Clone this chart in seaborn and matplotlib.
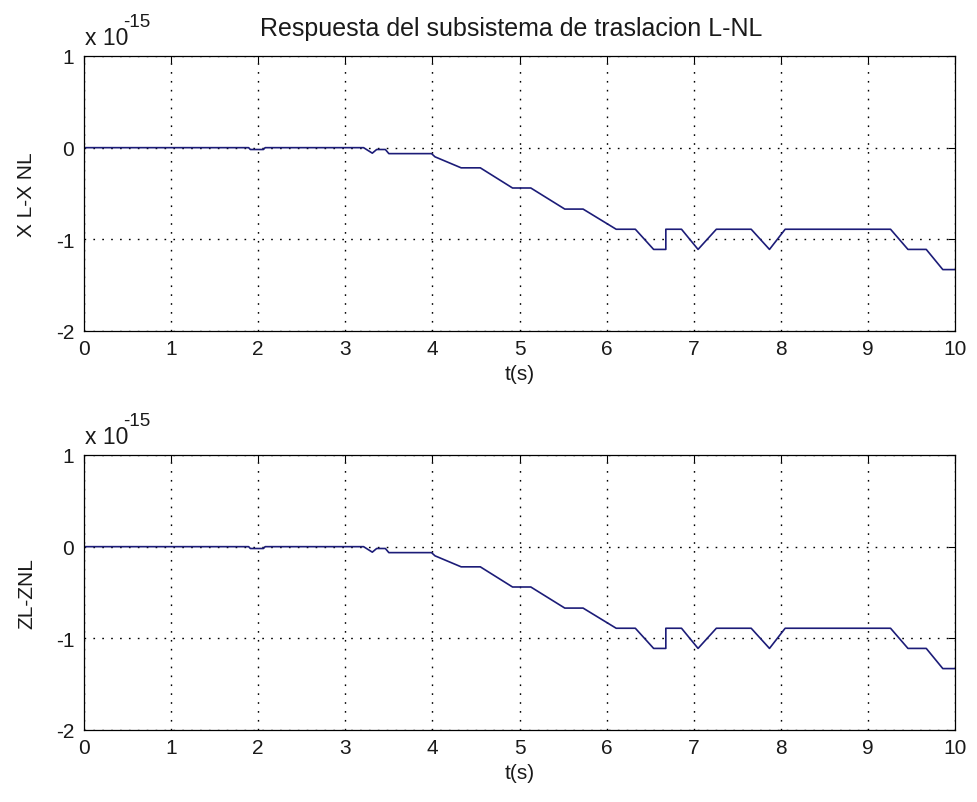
import matplotlib
matplotlib.use("Agg")
import matplotlib.pyplot as plt
import seaborn as sns
import pandas as pd

# data (values in units of 1e-15)
t = [0, 1.89, 1.91, 2.06, 2.08, 3.21, 3.31, 3.36, 3.46, 3.50, 3.99, 4.03, 4.33, 4.55,
     4.92, 5.13, 5.52, 5.73, 6.11, 6.33, 6.54, 6.68, 6.68, 6.86, 7.05, 7.26, 7.66, 7.87,
     8.05, 9.26, 9.46, 9.67, 9.86, 10]
x_diff = [0, 0, -0.02, -0.02, 0, 0, -0.06, -0.02, -0.02, -0.065, -0.065, -0.1, -0.22, -0.22,
          -0.44, -0.44, -0.67, -0.67, -0.89, -0.89, -1.11, -1.11, -0.89, -0.89, -1.11, -0.89, -0.89, -1.11,
          -0.89, -0.89, -1.11, -1.11, -1.33, -1.33]
z_diff = list(x_diff)
x_ticks = list(range(0, 11))
y_ticks = [-2, -1, 0, 1]
title = "Respuesta del subsistema de traslacion L-NL"
ylabels = ["X L-X NL", "ZL-ZNL"]

sns.set_style("white")
plt.rcParams['font.family'] = ['Liberation Sans', 'DejaVu Sans']
plt.rcParams['axes.unicode_minus'] = False

W, H = 977, 803
fig = plt.figure(figsize=(W / 100, H / 100), dpi=100)
ax_w, ax_h = 871, 275
ax1 = fig.add_axes([84 / W, 1 - 332 / H, ax_w / W, ax_h / H])
ax2 = fig.add_axes([84 / W, 1 - 731 / H, ax_w / W, ax_h / H])

line_color = "#1c1c78"
text_color = "#1a1a1a"
for ax, vals, yl, top_px in [(ax1, x_diff, ylabels[0], 57), (ax2, z_diff, ylabels[1], 456)]:
    df = pd.DataFrame({"t": t, "v": vals})
    sns.lineplot(data=df, x="t", y="v", ax=ax, color=line_color, linewidth=1.2,
                 sort=False, estimator=None)
    ax.set_xlim(0, 10)
    ax.set_ylim(-2, 1)
    ax.set_xticks(x_ticks)
    ax.set_yticks(y_ticks)
    ax.grid(True, linestyle=(0, (1.2, 5.2)), color="black", linewidth=1.0)
    ax.tick_params(direction="in", length=5, top=True, right=True, labelsize=15,
                   color="black", labelcolor=text_color)
    ax.tick_params(axis="x", pad=6)
    ax.tick_params(axis="y", pad=7)
    for s in ax.spines.values():
        s.set_color("black")
        s.set_linewidth(0.9)
    ax.set_xlabel("t(s)", fontsize=15, color=text_color)
    ax.xaxis.set_label_coords(0.5, -33 / ax_h)
    ax.set_ylabel(yl, fontsize=15, color=text_color)
    ax.yaxis.set_label_coords(-(84 - 36) / ax_w, 0.5)
    # exponent label
    fig.text(85 / W, 1 - (top_px - 12) / H, "x 10", fontsize=16.5, ha="left",
             va="baseline", color=text_color)
    fig.text(123 / W, 1 - (top_px - 30) / H, "-15", fontsize=13.5, ha="left",
             va="baseline", color=text_color)

fig.text(511 / W, 1 - 36 / H, title, fontsize=18, ha="center", va="baseline",
         color=text_color)

fig.savefig("out.png", dpi=100, facecolor="white")
